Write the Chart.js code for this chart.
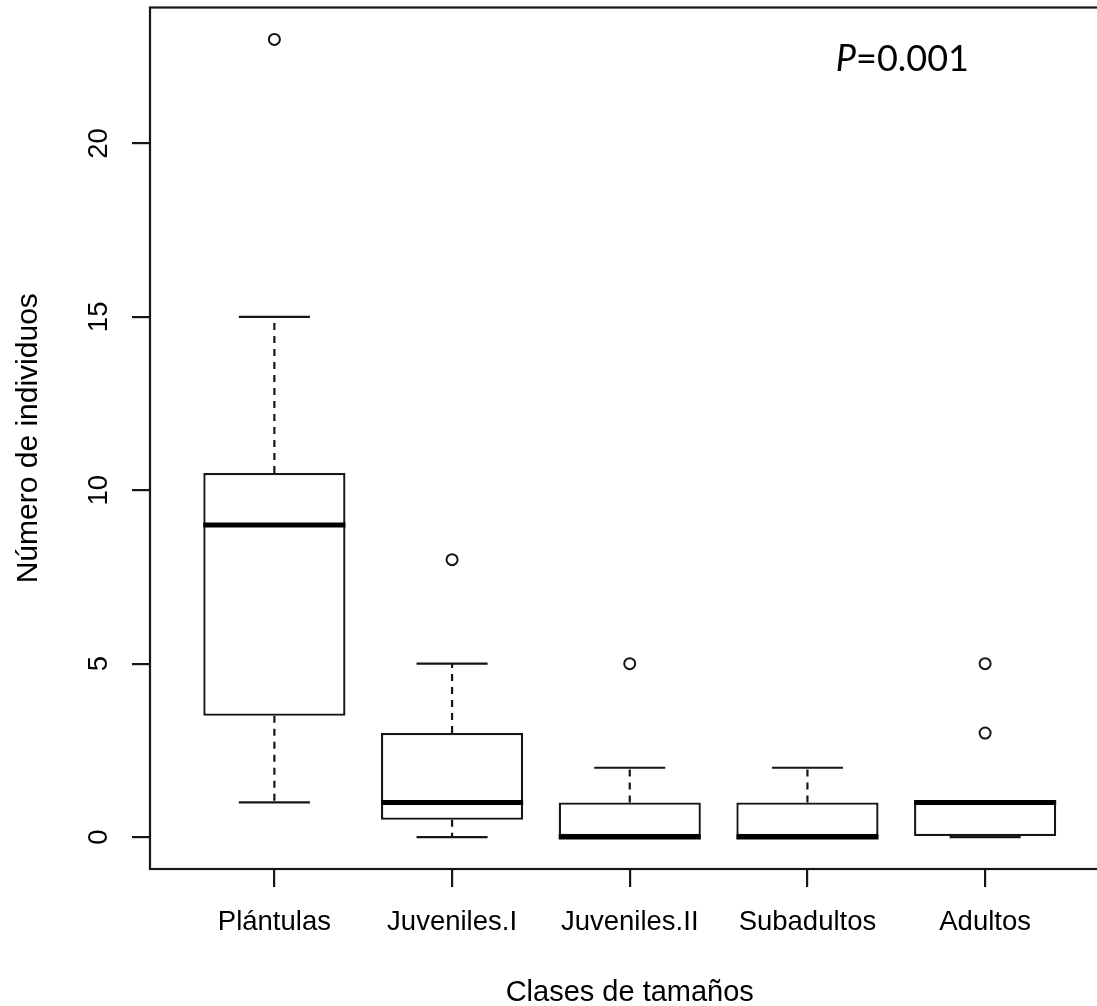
<!DOCTYPE html>
<html>
<head>
<meta charset="utf-8">
<title>Clases de tamaños</title>
<script src="https://cdn.jsdelivr.net/npm/chart.js@4.4.1/dist/chart.umd.min.js"></script>
<style>
  html, body { margin: 0; padding: 0; background: #fff; overflow: hidden; }
</style>
</head>
<body>
<canvas id="boxChart" width="1117" height="1006"></canvas>
<script>
// box plot summary per size class
const categories = ['Plántulas', 'Juveniles.I', 'Juveniles.II', 'Subadultos', 'Adultos'];
const whiskerLow = [1, 0, 0, 0, 0];
const q1 = [3.5, 0.5, 0, 0, 0];
const median = [9, 1, 0, 0, 1];
const q3 = [10.5, 3, 1, 1, 1];
const whiskerHigh = [15, 5, 2, 2, 1];
const outliers = [[23], [8], [5], [], [5, 3]];
const yTicks = [0, 5, 10, 15, 20];

const ink = '#161616';
const font = 'Liberation Sans, Arial, sans-serif';

// pieces Chart.js has no element for: whiskers, medians, frame, P value
const boxParts = {
    id: 'boxParts',
    beforeDatasetsDraw(chart) {
        const ctx = chart.ctx;
        const xs = chart.scales.x, ys = chart.scales.y;
        const bars = chart.getDatasetMeta(0).data;
        ctx.save();
        ctx.strokeStyle = ink;
        ctx.lineWidth = 2.2;
        for (let i = 0; i < categories.length; i++) {
            const x = xs.getPixelForValue(i + 1);
            const half = bars[i].width / 4;
            ctx.setLineDash([7, 6]);
            ctx.beginPath();
            ctx.moveTo(x, ys.getPixelForValue(q3[i]));
            ctx.lineTo(x, ys.getPixelForValue(whiskerHigh[i]));
            ctx.moveTo(x, ys.getPixelForValue(q1[i]));
            ctx.lineTo(x, ys.getPixelForValue(whiskerLow[i]));
            ctx.stroke();
            ctx.setLineDash([]);
            ctx.beginPath();
            [whiskerHigh[i], whiskerLow[i]].forEach(v => {
                const y = ys.getPixelForValue(v);
                ctx.moveTo(x - half, y);
                ctx.lineTo(x + half, y);
            });
            ctx.stroke();
        }
        ctx.restore();
    },
    afterDatasetsDraw(chart) {
        const ctx = chart.ctx;
        const xs = chart.scales.x, ys = chart.scales.y;
        const bars = chart.getDatasetMeta(0).data;
        ctx.save();
        ctx.strokeStyle = '#000';
        ctx.lineWidth = 5;
        for (let i = 0; i < categories.length; i++) {
            const x = xs.getPixelForValue(i + 1);
            const half = bars[i].width / 2;
            const y = ys.getPixelForValue(median[i]);
            ctx.beginPath();
            ctx.moveTo(x - half, y);
            ctx.lineTo(x + half, y);
            ctx.stroke();
        }
        ctx.restore();
    },
    afterDraw(chart) {
        const ctx = chart.ctx;
        const a = chart.chartArea;
        ctx.save();
        ctx.strokeStyle = ink;
        ctx.lineWidth = 2.2;
        ctx.strokeRect(a.left, a.top, a.width, a.height);

        // P value, placed in data units
        const px = chart.scales.x.getPixelForValue(4.16);
        const py = chart.scales.y.getPixelForValue(22.1);
        ctx.fillStyle = '#000';
        ctx.textBaseline = 'alphabetic';
        ctx.textAlign = 'left';
        ctx.font = 'italic 36px Lato, sans-serif';
        ctx.fillText('P', px, py);
        const w = ctx.measureText('P').width;
        ctx.font = '36px Lato, sans-serif';
        ctx.fillText('=0.001', px + w, py);
        ctx.restore();
    }
};

const boxData = categories.map((c, i) => ({ x: i + 1, y: [q1[i], q3[i]] }));
const outlierData = outliers.flatMap((vals, i) => vals.map(v => ({ x: i + 1, y: v })));

new Chart(document.getElementById('boxChart'), {
    type: 'bar',
    data: {
        datasets: [{
            label: 'caja',
            data: boxData,
            backgroundColor: '#fff',
            borderColor: ink,
            borderWidth: 2.3,
            borderSkipped: false,
            categoryPercentage: 1,
            barPercentage: 0.8
        }, {
            type: 'scatter',
            label: 'atípicos',
            data: outlierData,
            pointStyle: 'circle',
            pointRadius: 5.5,
            pointBorderWidth: 2,
            pointBackgroundColor: 'rgba(0,0,0,0)',
            pointBorderColor: ink
        }]
    },
    plugins: [boxParts],
    options: {
        responsive: false,
        animation: false,
        layout: { padding: { top: 6, right: 1, left: 0, bottom: 0 } },
        plugins: {
            legend: { display: false },
            tooltip: { enabled: false }
        },
        scales: {
            x: {
                type: 'linear',
                min: 0.3,
                max: 5.7,
                offset: false,
                afterBuildTicks: axis => { axis.ticks = categories.map((c, i) => ({ value: i + 1 })); },
                afterFit: axis => {
                    axis.height = 137;
                    axis.paddingLeft = 0;
                    axis.paddingRight = 0;
                },
                border: { display: false },
                grid: { offset: false, drawOnChartArea: false, drawTicks: true, tickLength: 18, color: ink, lineWidth: 2.2 },
                ticks: {
                    autoSkip: false,
                    maxRotation: 0,
                    padding: 19,
                    color: '#000',
                    font: { family: font, size: 27.5 },
                    callback: (v, i) => categories[i]
                },
                title: {
                    display: true,
                    text: 'Clases de tamaños',
                    color: '#000',
                    font: { family: font, size: 29, lineHeight: 1 },
                    padding: { top: 0, bottom: -1 }
                }
            },
            y: {
                min: -0.92,
                max: 23.92,
                afterBuildTicks: axis => { axis.ticks = yTicks.map(v => ({ value: v })); },
                afterFit: axis => {
                    axis.width = 150;
                    axis.paddingTop = 0;
                    axis.paddingBottom = 0;
                },
                border: { display: false },
                grid: { drawOnChartArea: false, drawTicks: true, tickLength: 18, color: ink, lineWidth: 2.2 },
                ticks: {
                    minRotation: 90,
                    maxRotation: 90,
                    crossAlign: 'center',
                    padding: 17,
                    color: '#000',
                    font: { family: font, size: 27.5 }
                },
                title: {
                    display: true,
                    text: 'Número de individuos',
                    color: '#000',
                    font: { family: font, size: 30, lineHeight: 1 },
                    padding: { top: 14, bottom: 0 }
                }
            }
        }
    }
});
</script>
</body>
</html>
